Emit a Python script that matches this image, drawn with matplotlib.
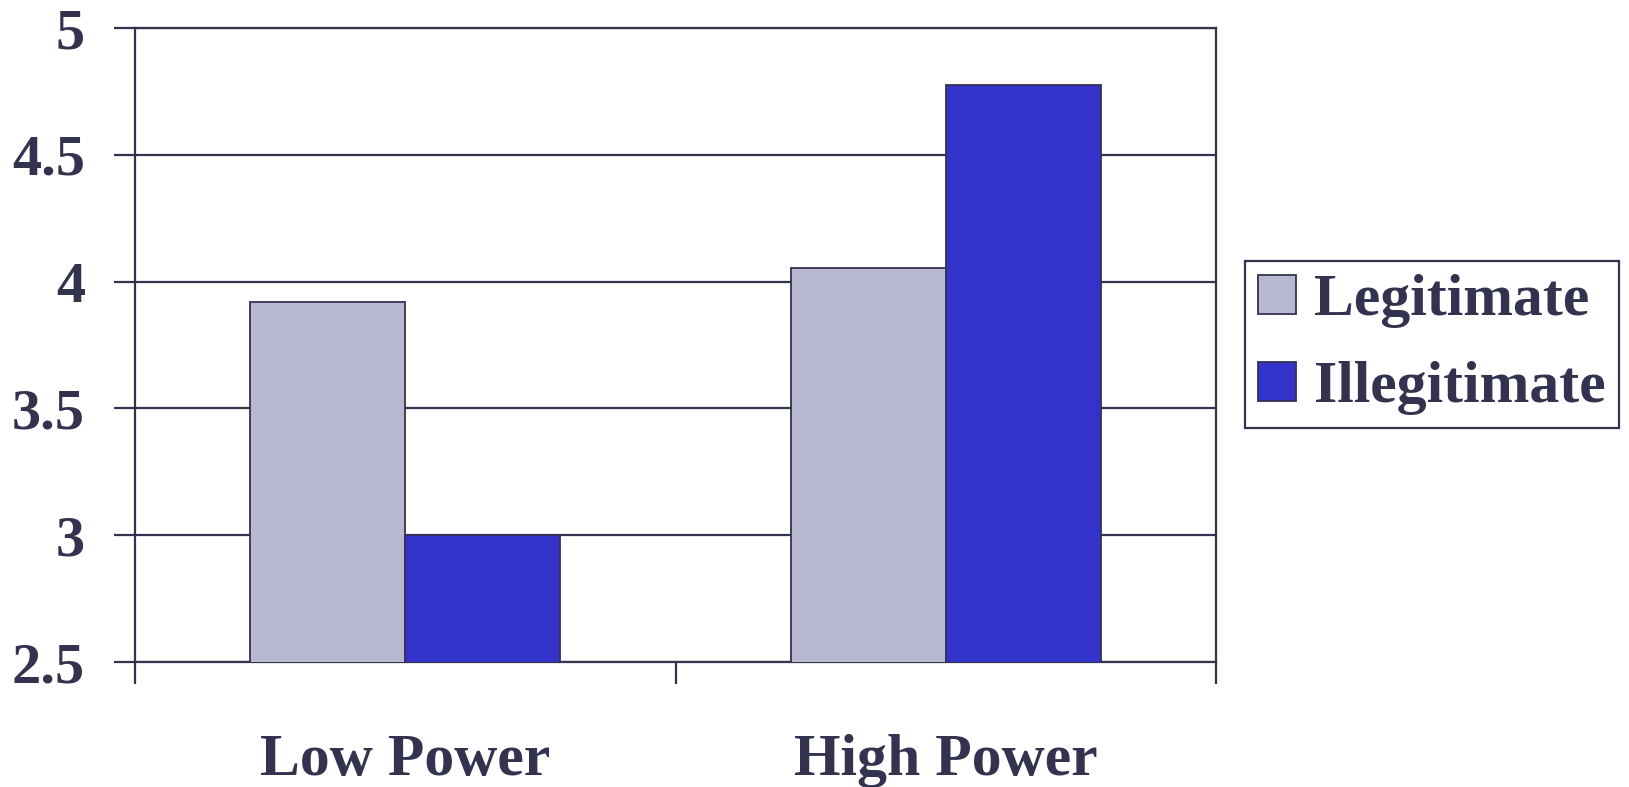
import numpy as np
import matplotlib
matplotlib.use("Agg")
import matplotlib.pyplot as plt
from matplotlib.ticker import FixedLocator

# chart values
groups = ["Low Power", "High Power"]
series_names = ["Legitimate", "Illegitimate"]
legit = [3.92, 4.055]
illegit = [3.0, 4.775]
y_ticks = [2.5, 3, 3.5, 4, 4.5, 5]
y_labels = ["2.5", "3", "3.5", "4", "4.5", "5"]

ink = "#333350"
bar_colors = ["#B8B8D0", "#3333CC"]

plt.rcParams["font.family"] = ["Liberation Serif", "DejaVu Serif"]
plt.rcParams["font.weight"] = "bold"

fig = plt.figure(figsize=(16.29, 7.87), dpi=100)
ax = fig.add_axes([0.0829, 0.1588, 0.6636, 0.8056])

x = np.arange(len(groups))
w = 0.287
ax.bar(x - w / 2, legit, w, color=bar_colors[0], edgecolor=ink,
       linewidth=1.3, label=series_names[0], zorder=3)
ax.bar(x + w / 2, illegit, w, color=bar_colors[1], edgecolor=ink,
       linewidth=1.3, label=series_names[1], zorder=3)

ax.set_xlim(-0.5, 1.5)
ax.set_ylim(2.5, 5)
ax.set_yticks(y_ticks)
ax.set_yticklabels(y_labels)
ax.set_xticks(x)
ax.set_xticklabels(groups)
ax.xaxis.set_minor_locator(FixedLocator([-0.5, 0.5, 1.5]))

ax.yaxis.grid(True, color=ink, linewidth=1.6, zorder=0)
for s in ax.spines.values():
    s.set_color(ink)
    s.set_linewidth(1.6)

ax.tick_params(axis="y", which="major", length=15, width=1.6, color=ink,
               pad=21, labelsize=42, labelcolor=ink)
ax.tick_params(axis="x", which="major", length=0, pad=52,
               labelsize=43, labelcolor=ink)
ax.tick_params(axis="x", which="minor", length=16, width=1.6, color=ink)

leg = ax.legend(loc="upper left", bbox_to_anchor=(0.764, 0.668),
                bbox_transform=fig.transFigure, fontsize=43,
                fancybox=False, framealpha=1, edgecolor=ink,
                handlelength=0.64, handleheight=0.64, handletextpad=0.3,
                labelspacing=0.55, borderpad=0.22, borderaxespad=0)
leg.get_frame().set_linewidth(1.6)
for t in leg.get_texts():
    t.set_color(ink)

fig.savefig("out.png", dpi=100)
